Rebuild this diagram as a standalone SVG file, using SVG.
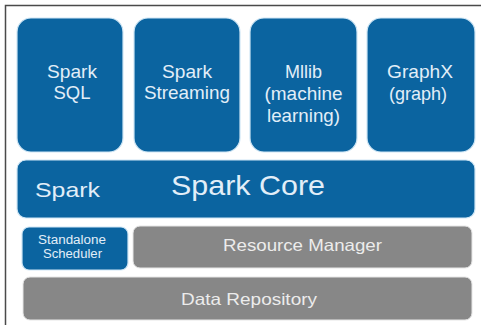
<svg xmlns="http://www.w3.org/2000/svg" width="481" height="325" viewBox="0 0 481 325">
<style>
.blue{fill:#0b64a0;stroke:#cfe6f5;stroke-width:1.2}
.gray{fill:#878787;stroke:#e6e6e6;stroke-width:1}
text{font-family:"Liberation Sans",Arial,sans-serif;text-anchor:middle}
.bt{fill:#e2eef8}
.gt{fill:#ececec}
</style>
<rect width="481" height="325" fill="#ffffff"/>
<path d="M481 5.5H5.5V325" fill="none" stroke="#4a4a4a" stroke-width="1.5"/>
<g id="spark-sql">
<rect class="blue" x="17" y="18" width="106" height="134" rx="14"/>
<text class="bt" x="72" y="78" font-size="19" textLength="50" lengthAdjust="spacingAndGlyphs">Spark</text>
<text class="bt" x="72" y="99" font-size="19" textLength="37" lengthAdjust="spacingAndGlyphs">SQL</text>
</g>
<g id="spark-streaming">
<rect class="blue" x="134" y="18" width="106" height="134" rx="14"/>
<text class="bt" x="187" y="78" font-size="19" textLength="50" lengthAdjust="spacingAndGlyphs">Spark</text>
<text class="bt" x="187" y="99" font-size="19" textLength="86" lengthAdjust="spacingAndGlyphs">Streaming</text>
</g>
<g id="mllib">
<rect class="blue" x="250" y="18" width="107" height="134" rx="14"/>
<text class="bt" x="303.5" y="78" font-size="19" textLength="37" lengthAdjust="spacingAndGlyphs">Mllib</text>
<text class="bt" x="303.5" y="100" font-size="19" textLength="78" lengthAdjust="spacingAndGlyphs">(machine</text>
<text class="bt" x="303.5" y="122" font-size="19" textLength="73" lengthAdjust="spacingAndGlyphs">learning)</text>
</g>
<g id="graphx">
<rect class="blue" x="367" y="18" width="108" height="134" rx="14"/>
<text class="bt" x="420" y="78" font-size="19" textLength="66" lengthAdjust="spacingAndGlyphs">GraphX</text>
<text class="bt" x="418" y="100" font-size="19" textLength="58" lengthAdjust="spacingAndGlyphs">(graph)</text>
</g>
<g id="spark-core">
<rect class="blue" x="17" y="160" width="458" height="58" rx="9"/>
<text class="bt" x="67.5" y="197" font-size="21" textLength="65" lengthAdjust="spacingAndGlyphs">Spark</text>
<text class="bt" x="248" y="195" font-size="28" textLength="154" lengthAdjust="spacingAndGlyphs">Spark Core</text>
</g>
<g id="standalone-scheduler">
<rect class="blue" x="22" y="227" width="106" height="43" rx="7"/>
<text class="bt" x="72" y="244" font-size="12.5" textLength="68" lengthAdjust="spacingAndGlyphs">Standalone</text>
<text class="bt" x="72.5" y="258" font-size="12.5" textLength="59" lengthAdjust="spacingAndGlyphs">Scheduler</text>
</g>
<g id="resource-manager">
<rect class="gray" x="133" y="226" width="339" height="42" rx="7"/>
<text class="gt" x="302.5" y="251" font-size="16.5" textLength="159" lengthAdjust="spacingAndGlyphs">Resource Manager</text>
</g>
<g id="data-repository">
<rect class="gray" x="23" y="277" width="449" height="43" rx="7"/>
<text class="gt" x="249" y="305" font-size="16.5" textLength="136" lengthAdjust="spacingAndGlyphs">Data Repository</text>
</g>
<g id="connectors"></g>
</svg>
